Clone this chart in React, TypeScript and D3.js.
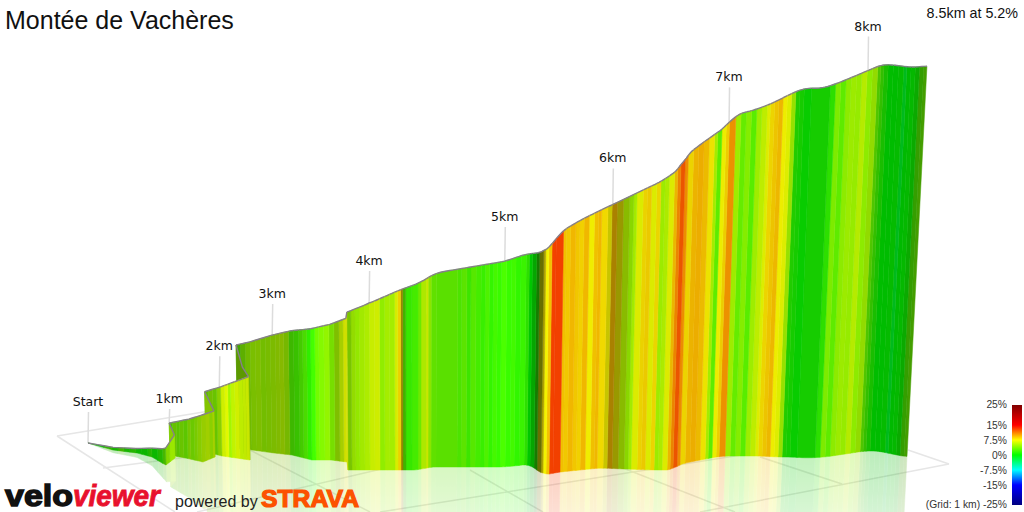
import React from "react";
import * as d3 from "d3";

const W = 1024, H = 512;
const FONT = "'Liberation Sans', Arial, sans-serif";

// Route knots: distance, ground position in the perspective view, and elevation gain
const knotKm = [0, .3, .6, .76, .86, .9, .95, 1, 1.3, 1.5, 1.65, 1.75, 2, 2.2, 2.4, 2.45, 2.5, 2.69, 3, 3.19, 3.4, 3.59, 3.76, 3.77, 4, 4.15, 4.24, 4.38, 4.44, 4.5, 5, 5.2, 5.24, 5.36, 5.39, 5.55, 5.74, 5.93, 6.16, 6.43, 6.59, 6.64, 6.75, 6.98, 7.05, 7.21, 7.32, 7.46, 7.55, 7.69, 7.82, 8.03, 8.13, 8.25, 8.37, 8.5];
const knotGroundX = [88, 113, 137, 152, 162, 166, 175, 170, 190, 203, 215, 206, 222, 236, 250, 244, 238, 252, 274, 292, 312, 331, 347, 348, 370, 390, 402, 420, 428, 436, 503, 524, 528, 540, 544, 560, 580, 600, 625, 655, 672, 678, 690, 716, 725, 745, 760, 778, 790, 808, 825, 852, 864, 878, 892, 907];
const knotGroundY = [443, 450, 453, 457, 463, 465, 458, 455, 459, 462, 457, 452, 456, 458, 460, 454, 447, 450, 453, 455, 460, 460, 462, 470, 470, 470, 470, 470, 467, 467, 467, 465, 464, 472, 475, 472, 470, 468, 469, 470, 470, 465, 462, 457, 456, 456, 456, 457, 457, 458, 457, 453, 451, 451, 454, 457];
const knotElevation = [0, 3, 5, 10, 16, 19, 26, 36, 45, 53, 52, 68, 78, 86, 94, 98, 115, 122, 133, 140, 148, 153, 162, 178, 188, 198, 204, 211, 214, 219, 232, 238, 237, 248, 254, 273, 284, 293, 308, 326, 340, 349, 357, 373, 385, 391, 398, 410, 416, 417, 423, 432, 436, 435, 436, 441];

// Gradient bands along the route: ground x where each band ends, and its gradient (%)
const bandEndsApproach = [96, 104, 112, 118, 124, 130, 136, 142, 148, 152, 158, 163, 166, 170, 175, 170];
const bandGradesApproach = [1, .5, 2, 1, 2.5, 1, 1.5, .5, .5, 1.5, .5, 1.5, 3, 4.5, 5, 5];
const bandEndsHairpins = [173, 177, 180, 184, 188, 191, 195, 198, 202, 206, 210, 213, 215, 206, 210, 214, 218, 222, 226, 229, 232, 236, 240, 244, 247, 250, 238];
const bandGradesHairpins = [3, 4, 3.5, 4, 3.5, 4.5, 4, 4.5, 5, 5.5, 5.8, 5, 6, 5, 4, 4.5, 4, 5, 6.5, 6.8, 5, 6, 6.5, 6, 6.2, 6.5, 4.5];
const bandEndsLower = [242, 247, 252, 257, 262, 267, 272, 277, 281, 285, 290, 295, 300, 304, 308, 312, 316, 320, 325, 330, 335, 340, 344, 347, 348];
const bandGradesLower = [3, 4, 4.5, 4.8, 5, 4.6, 4.8, 5, 5.2, 5.4, 4.8, 2.5, 2.2, 2.5, 2.5, 1.5, 2, 3.4, 4, 4.5, 4, 5, 6, 7, 7];
const bandEndsMiddle = [352, 356, 360, 365, 370, 375, 380, 385, 390, 395, 398, 401, 403, 406, 412, 418, 421, 426, 428, 431, 436, 457, 461, 466, 470, 475, 480, 484, 488, 492, 496, 500, 505, 510, 514, 519, 524, 527, 530, 534, 537, 541, 543, 546, 549, 553, 560];
const bandGradesMiddle = [4.6, 5, 4.8, 5.2, 5.5, 6.3, 6.5, 4.6, 5.2, 5.2, 6.8, 8.4, 8, 2.5, 1.8, 2.2, 3.5, 5.6, 6.5, 4.5, 3.2, 3, 2.5, 3, 2, 2.8, 2.2, 1.8, 2.4, 1.6, 2.1, 1.7, 2.2, 1.7, 2, 1.5, 1.8, 1.5, 0, .2, 1.5, 7, 8, 7.5, 9, 13, 13];
const bandEndsUpper = [563, 567, 572, 576, 580, 585, 590, 594, 597, 603, 607, 612, 618, 624, 628, 631, 637, 641, 645, 650, 654, 658, 662, 667, 670, 673, 677, 680, 685, 690, 695, 700, 705, 708, 712, 716, 719, 725, 730, 735, 740, 745, 750, 755, 758, 762, 766, 770, 774, 778, 782, 786, 790, 797, 815, 820, 825, 830, 835, 840, 845, 850, 855, 860, 863, 866, 870, 875, 880, 885, 888, 892, 896, 900, 904, 907];
const bandGradesUpper = [9, 8.8, 9.3, 8.8, 8.5, 9.3, 7.6, 9, 9.3, 8.2, 7.6, 9.3, 7.5, 5.5, 4.8, 5.2, 7, 8.3, 8.6, 7, 8.2, 5, 5.5, 7, 9.2, 10.8, 12.3, 10.5, 8.3, 9.3, 9.5, 9.1, 7.8, 5.2, 3, 7.5, 8.5, 10.4, 5, 3.2, 4.2, 2.8, 5, 6, 7, 8.3, 8.8, 9.2, 7.5, 7, 5, 1.2, .8, .3, .8, 1.5, 4, 3, 4.5, 5, 4.8, 5.8, 4.5, 5, 3, 2, 1, 0, 0, .2, -1.2, 0, .2, .5, 2.5, 3.2];

// Lighting of the ribbon by distance (it changes with the road's direction)
const shadeKm = [0, .9, .92, 1, 1.65, 1.75, 1.95, 2.05, 2.4, 2.45, 2.69, 3.2, 3.3, 3.42, 3.6, 3.62, 3.7, 3.76, 3.78, 3.85, 4, 4.23, 4.24, 4.27, 4.3, 4.45, 4.5, 4.75, 5, 5.19, 5.24, 5.28, 5.3, 5.36, 5.39, 5.93, 6, 6.06, 6.2, 7.46, 7.5, 7.7, 7.8, 8.05, 8.12, 8.4, 8.44, 8.5];
const shadeValue = [.7, .72, .95, .75, .82, .72, .78, .98, .9, .6, .75, .72, .8, 1, .95, .7, .8, .9, .75, .9, .93, .93, .55, .8, .93, .9, .87, .9, 1, .95, .8, .65, .5, .42, .95, .94, .7, .58, .92, .93, .8, .8, .92, .92, .75, .72, .62, .62];

// Distance labels: km, label text, where the leader meets the road, how far the label sits above it
const tickKm = [0, 1, 2, 3, 4, 5, 6, 7, 8];
const tickLabels = ["Start", "1km", "2km", "3km", "4km", "5km", "6km", "7km", "8km"];
const tickPosKm = [0, 1, 1.98, 3, 4, 5, 6, 7, 8.02];
const tickLift = [37, 20, 37, 37, 38, 40, 42, 41, 40];

// Colour legend
const legendGrades = [25, 15, 7.5, 0, -7.5, -15, -25];
const legendColours = ["#800000", "#ff0000", "#ffff00", "#00ff00", "#00ffff", "#0000ff", "#000080"];
const legendLabels = ["25%", "15%", "7.5%", "0%", "-7.5%", "-15%", "(Grid: 1 km) -25%"];

// Ground grid segments [x1, y1, x2, y2]
const gridSegments = [
  [57, 436, 175, 512], [250, 450, 370, 512], [470, 470, 543, 512], [600, 459, 735, 512], [760, 457, 842, 484], [908, 450, 949, 464],
  [57, 436, 240, 406], [103, 468, 250, 449], [197, 512, 420, 460], [380, 512, 760, 452], [700, 512, 949, 464],
];

const grade2colour = d3.scaleLinear<string>().domain(legendGrades).range(legendColours).interpolate(d3.interpolateRgb);
const shadeScale = d3.scaleLinear().domain(shadeKm).range(shadeValue).clamp(true);
const groundX = d3.scaleLinear().domain(knotKm).range(knotGroundX);
const groundY = d3.scaleLinear().domain(knotKm).range(knotGroundY);
const elevation = d3.scaleLinear().domain(knotKm).range(knotElevation);
const heightPx = d3.scaleLinear().domain([0, 450]).range([0, 399]);
const legendY = d3.scaleLinear().domain([25, -25]).range([405, 505]);

const VANISH_X = 420, LEAN = 1.05e-4;
const SMOOTH_FROM_KM = 3.95, SMOOTH_KM = 0.05;
const smoothed = (f: (k: number) => number, km: number) => {
  if (km < SMOOTH_FROM_KM) return f(km);
  const lo = Math.max(SMOOTH_FROM_KM - 0.1, km - SMOOTH_KM), hi = Math.min(8.5, km + SMOOTH_KM);
  return d3.mean(d3.range(5).map((i) => f(lo + ((hi - lo) * i) / 4))) as number;
};
function project(km: number) {
  const gx = groundX(km), gy = smoothed(groundY, km), h = heightPx(smoothed(elevation, km));
  const dx = (gx - VANISH_X) * h * LEAN;
  return { gx, gy, rx: gx + dx, ry: gy - h, mx: gx - dx, my: gy + h };
}

// Walk forward along the route to the next place where ground x equals x (handles hairpins)
function nextPos(pos: number, x: number) {
  for (let i = Math.floor(pos); i < knotGroundX.length - 1; i++) {
    const a = knotGroundX[i], b = knotGroundX[i + 1];
    const t = (x - a) / (b - a);
    if (t >= 0 && t <= 1 && i + t > pos) return i + t;
  }
  return knotGroundX.length - 1;
}
const posToKm = (p: number) => {
  const i = Math.min(Math.floor(p), knotKm.length - 2);
  return knotKm[i] + (knotKm[i + 1] - knotKm[i]) * (p - i);
};

const allEnds = [...bandEndsApproach, ...bandEndsHairpins, ...bandEndsLower, ...bandEndsMiddle, ...bandEndsUpper];
const allGrades = [...bandGradesApproach, ...bandGradesHairpins, ...bandGradesLower, ...bandGradesMiddle, ...bandGradesUpper];

type Band = { kms: number[]; fill: string };
const bands: Band[] = [];
{
  let pos = 0;
  allEnds.forEach((x, i) => {
    const next = nextPos(pos, x);
    const a = posToKm(pos), b = posToKm(next);
    const raw = [a];
    for (let k = Math.floor(pos) + 1; k < next; k++) raw.push(knotKm[k]);
    if (a >= SMOOTH_FROM_KM) {
      const steps = Math.max(1, Math.ceil((b - a) / 0.02));
      for (let s = 1; s < steps; s++) raw.push(a + ((b - a) * s) / steps);
    }
    raw.push(b);
    const kms = raw.sort(d3.ascending);
    const c = d3.rgb(grade2colour(allGrades[i]));
    const s = shadeScale((a + b) / 2);
    bands.push({ kms, fill: d3.rgb(c.r * s, c.g * s, c.b * s).formatHex() });
    pos = next;
  });
}

const pts = (p: [number, number][]) => p.map(([x, y]) => `${x.toFixed(2)},${y.toFixed(2)}`).join(" ");

export default function App() {
  const painterOrder = [...bands].reverse();
  return (
    <svg width={W} height={H} viewBox={`0 0 ${W} ${H}`} style={{ position: "fixed", left: 0, top: 0, background: "#fff" }} fontFamily={FONT}>
      <defs>
        <linearGradient id="legend" x1="0" x2="0" y1="0" y2="1">
          {legendGrades.map((g, i) => (
            <stop key={g} offset={(25 - g) / 50} stopColor={legendColours[i]} />
          ))}
        </linearGradient>
        <linearGradient id="fade" gradientUnits="userSpaceOnUse" x1="0" x2="0" y1="450" y2="512">
          <stop offset="0" stopColor="#fff" stopOpacity="0.27" />
          <stop offset="1" stopColor="#fff" stopOpacity="0.17" />
        </linearGradient>
        <mask id="fadeMask" maskUnits="userSpaceOnUse" x="0" y="0" width={W} height={H}>
          <rect x="0" y="0" width={W} height={H} fill="url(#fade)" />
        </mask>
      </defs>

      {gridSegments.map((s, i) => (
        <line key={i} x1={s[0]} y1={s[1]} x2={s[2]} y2={s[3]} stroke="#e6e6e6" strokeWidth={1.5} />
      ))}

      <g mask="url(#fadeMask)">
        {painterOrder.map((b, i) => {
          const p = b.kms.map(project);
          const poly: [number, number][] = [...p.map((q) => [q.gx, q.gy] as [number, number]), ...p.slice().reverse().map((q) => [q.mx, q.my] as [number, number])];
          return <polygon key={i} points={pts(poly)} fill={b.fill} stroke={b.fill} strokeWidth={0.5} />;
        })}
      </g>

      {tickKm.map((k, i) => {
        const q = project(tickPosKm[i]);
        return (
          <g key={k}>
            <line x1={q.rx} x2={q.rx + 0.5} y1={q.ry} y2={q.ry - tickLift[i] + 6} stroke="#dcdcdc" strokeWidth={1.5} />
            <text x={q.rx} y={q.ry - tickLift[i]} textAnchor="middle" fontSize={12.5} fontFamily="'DejaVu Sans', sans-serif" fill="#111">
              {tickLabels[i]}
            </text>
          </g>
        );
      })}

      {painterOrder.map((b, i) => {
        const p = b.kms.map(project);
        const poly: [number, number][] = [...p.map((q) => [q.rx, q.ry] as [number, number]), ...p.slice().reverse().map((q) => [q.gx, q.gy] as [number, number])];
        return (
          <g key={i}>
            <polygon points={pts(poly)} fill={b.fill} stroke={b.fill} strokeWidth={0.5} />
            <polyline points={pts(p.map((q) => [q.rx, q.ry] as [number, number]))} fill="none" stroke="#857f8a" strokeWidth={1.4} />
          </g>
        );
      })}

      <text x={5} y={29} fontSize={25} fill="#111">Montée de Vachères</text>
      <text x={1018} y={18} fontSize={14.3} textAnchor="end" fill="#111">8.5km at 5.2%</text>

      <rect x={1012} y={405} width={10} height={100} fill="url(#legend)" />
      {legendGrades.map((g, i) => (
        <text key={g} x={1007} y={legendY(g) + (i === 0 ? 3 : i === 6 ? 3 : 4)} fontSize={10.3} textAnchor="end" fill="#333">
          {legendLabels[i]}
        </text>
      ))}

      <text x={5} y={505.5} fontSize={30} fontWeight={700} fill="#111" stroke="#111" strokeWidth={1.4} textLength={68} lengthAdjust="spacingAndGlyphs">velo</text>
      <text x={73} y={505.5} fontSize={30} fontWeight={700} fontStyle="italic" fill="#e8112d" stroke="#e8112d" strokeWidth={0.9} textLength={87} lengthAdjust="spacingAndGlyphs">viewer</text>
      <text x={175} y={507} fontSize={16} fill="#222">powered by</text>
      <text x={261} y={507} fontSize={23} fontWeight={700} fill="#fc5200" stroke="#fc5200" strokeWidth={1.2} textLength={98} lengthAdjust="spacingAndGlyphs">STRAVA</text>
    </svg>
  );
}
